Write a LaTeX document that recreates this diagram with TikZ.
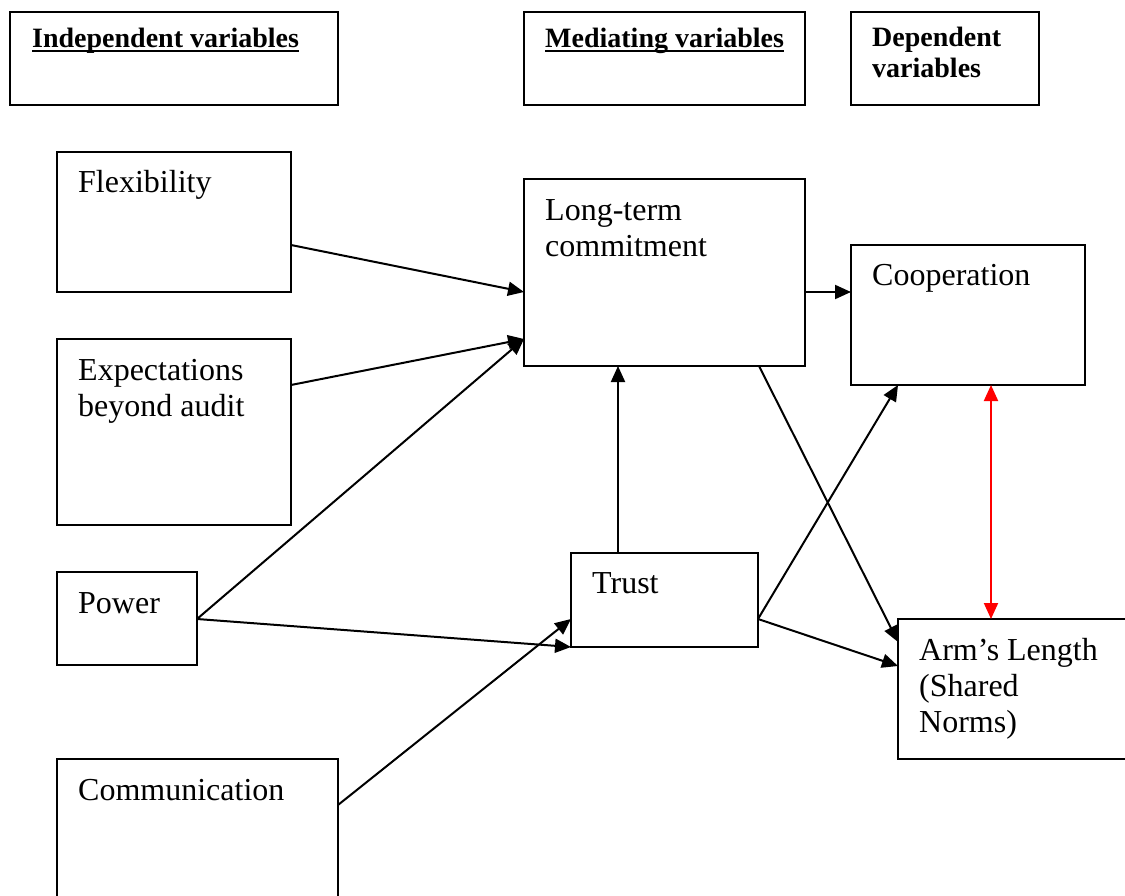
\documentclass[tikz,border=0pt]{standalone}
\usepackage{fontspec}
\setmainfont{Liberation Serif}
\usetikzlibrary{arrows.meta,calc}
\newcommand\myul[1]{\leavevmode\setbox0\hbox{#1}\rlap{\vrule width\wd0 height -2.5pt depth 4.5pt}\box0}
\begin{document}
\begin{tikzpicture}[x=1pt,y=-1pt,
  box/.style={draw,line width=2pt,anchor=north west,inner sep=0pt,outer sep=0pt},
  lbl/.style={anchor=base west,inner sep=0pt,align=left,font=\fontsize{32}{36}\selectfont},
  hdr/.style={anchor=base west,inner sep=0pt,align=left,font=\fontsize{28}{31}\selectfont\bfseries},
  arr/.style={line width=2pt,-{Triangle[length=16pt,width=14pt]}},
  redarr/.style={line width=2pt,red,{Triangle[length=16pt,width=14pt]}-{Triangle[length=16pt,width=14pt]}}]
\useasboundingbox (0,0) rectangle (1125,896);
\clip (0,0) rectangle (1125,896);
% header boxes
\node[box,minimum width=328pt,minimum height=93pt] (hind) at (10,12) {};
\node[box,minimum width=281pt,minimum height=93pt] (hmed) at (524,12) {};
\node[box,minimum width=188pt,minimum height=93pt] (hdep) at (851,12) {};
\node[hdr] (tind) at (32,48) {\myul{Independent variables}};
\node[hdr] (tmed) at (545,48) {\myul{Mediating variables}};
\node[hdr] (tdep) at (872,78) {Dependent\\variables};
% variable boxes
\node[box,minimum width=234pt,minimum height=140pt] (flex) at (57,152) {};
\node[box,minimum width=234pt,minimum height=186pt] (expe) at (57,339) {};
\node[box,minimum width=140pt,minimum height=93pt] (powr) at (57,572) {};
\node[box,minimum width=281pt,minimum height=170pt] (comm) at (57,759) {};
\node[box,minimum width=281pt,minimum height=187pt] (ltc) at (524,179) {};
\node[box,minimum width=187pt,minimum height=94pt] (trust) at (571,553) {};
\node[box,minimum width=234pt,minimum height=140pt] (coop) at (851,245) {};
\node[box,minimum width=250pt,minimum height=140pt] (arms) at (898,619) {};
% labels
\node[lbl] (tflex) at (78,193) {Flexibility};
\node[lbl] (texpe) at (78,416) {Expectations\\beyond audit};
\node[lbl] (tpowr) at (78,613) {Power};
\node[lbl] (tcomm) at (78,800) {Communication};
\node[lbl] (tltc) at (545,257) {Long-term\\commitment};
\node[lbl] (ttrust) at (592,593) {Trust};
\node[lbl] (tcoop) at (872,286) {Cooperation};
\node[lbl] (tarms) at (919,732) {Arm’s Length\\(Shared\\Norms)};
% connectors
\draw[arr] ($(flex.north east)+(0,93)$) -- ($(ltc.north west)+(0,113)$);
\draw[arr] ($(expe.north east)+(0,46)$) -- ($(ltc.north west)+(0,160)$);
\draw[arr] ($(powr.north east)+(0,47)$) -- ($(ltc.north west)+(0,160)$);
\draw[arr] ($(powr.north east)+(0,47)$) -- (trust.south west);
\draw[arr] ($(comm.north east)+(0,46)$) -- ($(trust.north west)+(0,66)$);
\draw[arr] ($(trust.north west)+(47,0)$) -- ($(ltc.south west)+(94,0)$);
\draw[arr] ($(ltc.north east)+(0,113)$) -- ($(coop.north west)+(0,47)$);
\draw[arr] ($(ltc.south west)+(235,0)$) -- ($(arms.north west)+(0,23)$);
\draw[arr] ($(trust.north east)+(0,66)$) -- ($(coop.south west)+(47,0)$);
\draw[arr] ($(trust.north east)+(0,66)$) -- ($(arms.north west)+(0,47)$);
\draw[redarr] ($(coop.south west)+(140,0)$) -- ($(arms.north west)+(93,0)$);
\end{tikzpicture}
\end{document}
